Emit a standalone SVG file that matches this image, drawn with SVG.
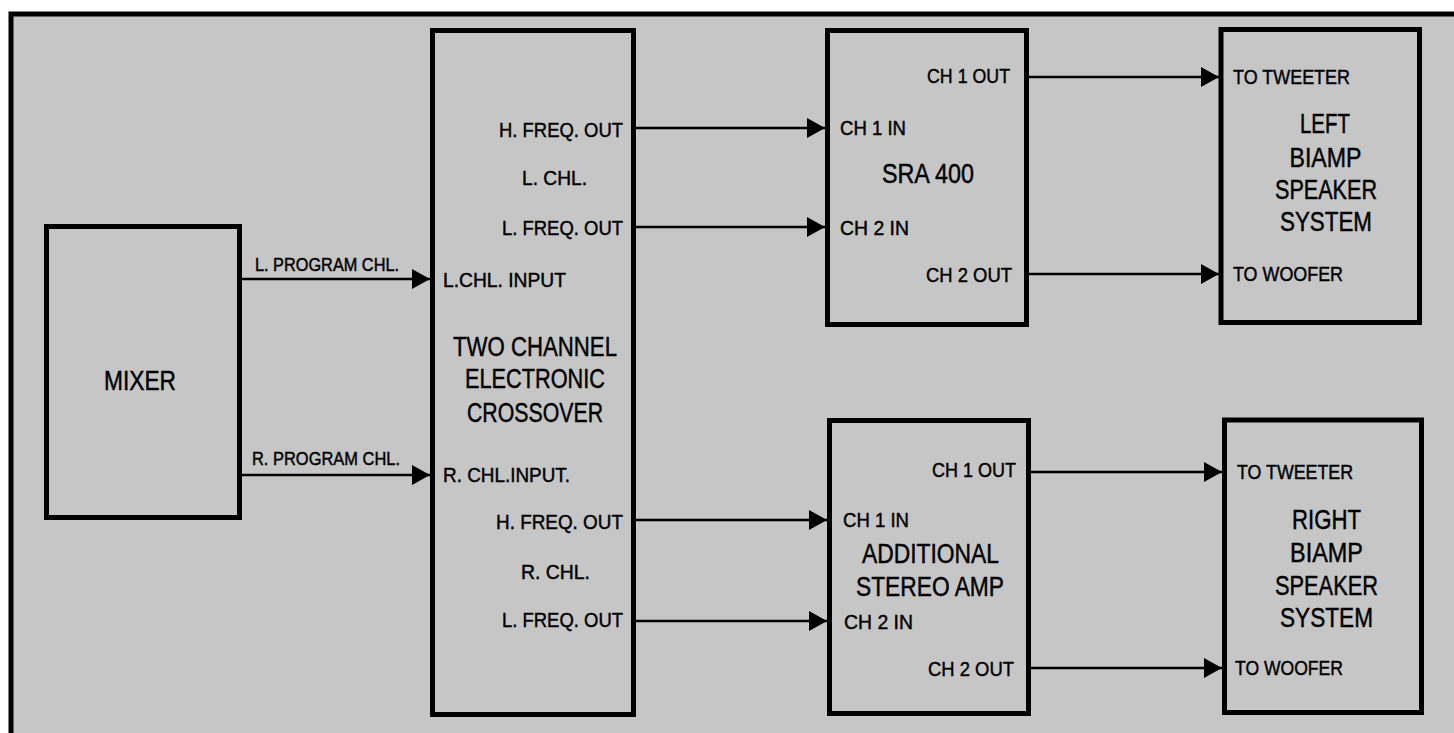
<svg xmlns="http://www.w3.org/2000/svg" width="1454" height="733" viewBox="0 0 1454 733">
<style>
.box{fill:#c6c6c6;stroke:#000;stroke-width:5}
.conn{stroke:#000;stroke-width:2.6;fill:none;marker-end:url(#ah)}
text{font-family:"Liberation Sans Narrow","Liberation Sans",Arial,sans-serif;fill:#000;stroke:#000;stroke-width:0.45}
.s{font-size:21px}
.p{font-size:18.5px}
.l{font-size:27.5px}
.m{text-anchor:middle}
.e{text-anchor:end}
</style>
<defs>
<marker id="ah" markerUnits="userSpaceOnUse" markerWidth="18" markerHeight="20" refX="18" refY="10" orient="auto">
<path d="M0,0 L18,10 L0,20 Z" fill="#000"/>
</marker>
</defs>
<rect x="0" y="0" width="1454" height="733" fill="#fff"/>
<rect x="11" y="14" width="1443" height="719" fill="#c6c6c6"/>
<path d="M11,733 V14 H1454" fill="none" stroke="#000" stroke-width="5"/>

<g id="connectors">
<line class="conn" x1="240" y1="279" x2="430" y2="279"/>
<line class="conn" x1="240" y1="475" x2="430" y2="475"/>
<line class="conn" x1="634" y1="128" x2="825" y2="128"/>
<line class="conn" x1="634" y1="227" x2="825" y2="227"/>
<line class="conn" x1="634" y1="520" x2="827" y2="520"/>
<line class="conn" x1="634" y1="621" x2="827" y2="621"/>
<line class="conn" x1="1027" y1="77" x2="1219" y2="77"/>
<line class="conn" x1="1027" y1="274" x2="1219" y2="274"/>
<line class="conn" x1="1029" y1="472" x2="1222" y2="472"/>
<line class="conn" x1="1029" y1="668" x2="1222" y2="668"/>
</g>

<g id="mixer">
<rect class="box" x="46.5" y="226.5" width="193" height="291"/>
<text class="l m" x="140" y="390" textLength="72" lengthAdjust="spacingAndGlyphs">MIXER</text>
</g>

<g id="program-labels">
<text class="p" x="255" y="271" textLength="144" lengthAdjust="spacingAndGlyphs">L. PROGRAM CHL.</text>
<text class="p" x="252" y="465" textLength="148" lengthAdjust="spacingAndGlyphs">R. PROGRAM CHL.</text>
</g>

<g id="crossover">
<rect class="box" x="432.5" y="30.5" width="201" height="684"/>
<text class="s e" x="623" y="137" textLength="124" lengthAdjust="spacingAndGlyphs">H. FREQ. OUT</text>
<text class="s" x="522" y="185" textLength="65" lengthAdjust="spacingAndGlyphs">L. CHL.</text>
<text class="s e" x="623" y="235" textLength="121" lengthAdjust="spacingAndGlyphs">L. FREQ. OUT</text>
<text class="s" x="443" y="287" textLength="123" lengthAdjust="spacingAndGlyphs">L.CHL. INPUT</text>
<text class="l m" x="535" y="356" textLength="164" lengthAdjust="spacingAndGlyphs">TWO CHANNEL</text>
<text class="l m" x="535" y="388" textLength="140" lengthAdjust="spacingAndGlyphs">ELECTRONIC</text>
<text class="l m" x="535" y="422" textLength="136" lengthAdjust="spacingAndGlyphs">CROSSOVER</text>
<text class="s" x="443" y="482" textLength="127" lengthAdjust="spacingAndGlyphs">R. CHL.INPUT.</text>
<text class="s e" x="623" y="529" textLength="127" lengthAdjust="spacingAndGlyphs">H. FREQ. OUT</text>
<text class="s" x="521" y="579" textLength="69" lengthAdjust="spacingAndGlyphs">R. CHL.</text>
<text class="s e" x="623" y="627" textLength="121" lengthAdjust="spacingAndGlyphs">L. FREQ. OUT</text>
</g>

<g id="sra400">
<rect class="box" x="827.5" y="30.5" width="199" height="294"/>
<text class="s" x="927" y="83" textLength="83" lengthAdjust="spacingAndGlyphs">CH 1 OUT</text>
<text class="s" x="840" y="135" textLength="66" lengthAdjust="spacingAndGlyphs">CH 1 IN</text>
<text class="l m" x="928" y="183" textLength="92" lengthAdjust="spacingAndGlyphs">SRA 400</text>
<text class="s" x="840" y="235" textLength="69" lengthAdjust="spacingAndGlyphs">CH 2 IN</text>
<text class="s" x="926" y="282" textLength="86" lengthAdjust="spacingAndGlyphs">CH 2 OUT</text>
</g>

<g id="left-speaker">
<rect class="box" x="1221" y="29.5" width="198.5" height="293"/>
<text class="s" x="1233" y="84" textLength="117" lengthAdjust="spacingAndGlyphs">TO TWEETER</text>
<text class="l m" x="1325" y="133" textLength="50" lengthAdjust="spacingAndGlyphs">LEFT</text>
<text class="l m" x="1325.5" y="167" textLength="72" lengthAdjust="spacingAndGlyphs">BIAMP</text>
<text class="l m" x="1326" y="199" textLength="102" lengthAdjust="spacingAndGlyphs">SPEAKER</text>
<text class="l m" x="1326" y="231" textLength="92" lengthAdjust="spacingAndGlyphs">SYSTEM</text>
<text class="s" x="1233" y="281" textLength="110" lengthAdjust="spacingAndGlyphs">TO WOOFER</text>
</g>

<g id="additional-amp">
<rect class="box" x="829.5" y="420.5" width="199" height="293"/>
<text class="s" x="932" y="477" textLength="84" lengthAdjust="spacingAndGlyphs">CH 1 OUT</text>
<text class="s" x="843" y="527" textLength="66" lengthAdjust="spacingAndGlyphs">CH 1 IN</text>
<text class="l m" x="930.5" y="563" textLength="137" lengthAdjust="spacingAndGlyphs">ADDITIONAL</text>
<text class="l m" x="930" y="596" textLength="148" lengthAdjust="spacingAndGlyphs">STEREO AMP</text>
<text class="s" x="844" y="629" textLength="69" lengthAdjust="spacingAndGlyphs">CH 2 IN</text>
<text class="s" x="928" y="676" textLength="86" lengthAdjust="spacingAndGlyphs">CH 2 OUT</text>
</g>

<g id="right-speaker">
<rect class="box" x="1224.5" y="420" width="197" height="292.5"/>
<text class="s" x="1237" y="479" textLength="116" lengthAdjust="spacingAndGlyphs">TO TWEETER</text>
<text class="l m" x="1326.5" y="529" textLength="69" lengthAdjust="spacingAndGlyphs">RIGHT</text>
<text class="l m" x="1326.5" y="562" textLength="73" lengthAdjust="spacingAndGlyphs">BIAMP</text>
<text class="l m" x="1326.5" y="595" textLength="103" lengthAdjust="spacingAndGlyphs">SPEAKER</text>
<text class="l m" x="1326.5" y="627" textLength="93" lengthAdjust="spacingAndGlyphs">SYSTEM</text>
<text class="s" x="1235" y="675" textLength="108" lengthAdjust="spacingAndGlyphs">TO WOOFER</text>
</g>
</svg>
